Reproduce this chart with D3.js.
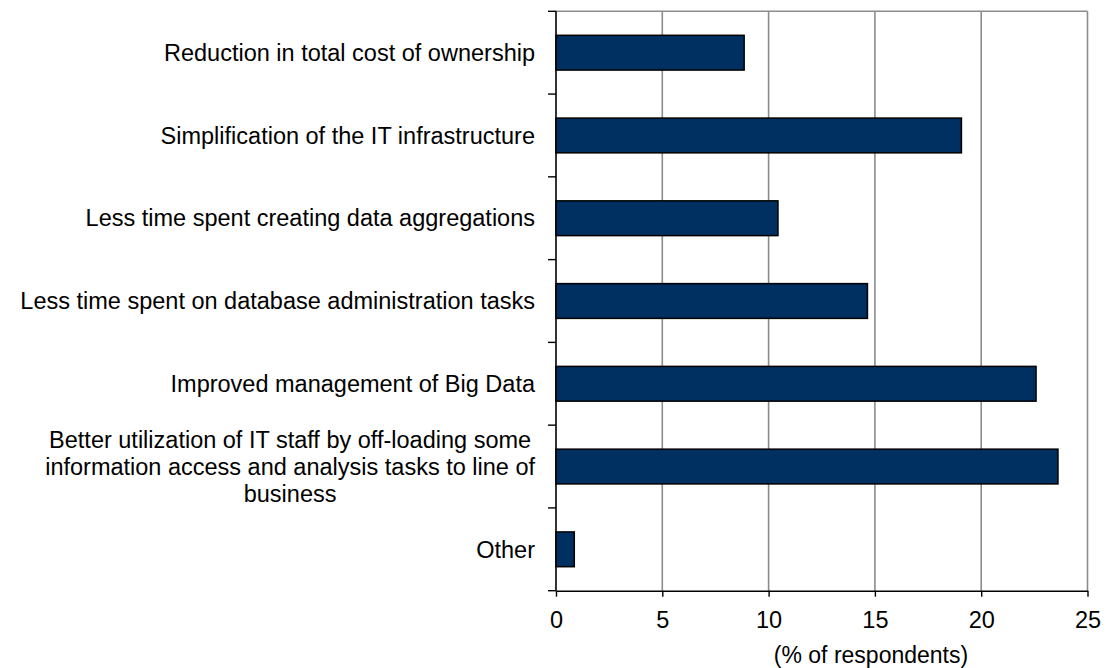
<!DOCTYPE html>
<html>
<head>
<meta charset="utf-8">
<script src="https://cdn.jsdelivr.net/npm/d3@7"></script>
<style>
  html, body { margin: 0; padding: 0; background: #fff; }
  svg { display: block; font-family: "Liberation Sans", Arial, sans-serif; }
</style>
</head>
<body>
<svg id="chart" width="1107" height="668"></svg>
<script>
// Survey responses: perceived benefits (% of respondents)
const categories = [
  "Reduction in total cost of ownership",
  "Simplification of the IT infrastructure",
  "Less time spent creating data aggregations",
  "Less time spent on database administration tasks",
  "Improved management of Big Data",
  "Better utilization of IT staff by off-loading some|information access and analysis tasks to line of|business",
  "Other"
];
const values = [8.85, 19.07, 10.44, 14.65, 22.58, 23.61, 0.86];
const xTicks = [0, 5, 10, 15, 20, 25];
const axisTitle = "(% of respondents)";

const svg = d3.select("#chart");
const plot = { left: 556, right: 1087.5, top: 11.3, bottom: 590.7 };
const fontSize = 23.5;
const lineHeight = 27;

const x = d3.scaleLinear().domain([0, 25]).range([plot.left, plot.right]);
const y = d3.scaleBand()
  .domain(categories)
  .range([plot.top, plot.bottom])
  .paddingInner(0.58)
  .paddingOuter(0.29);
const step = y.step();

// vertical gridlines and the top frame line
svg.append("g")
  .selectAll("line.grid")
  .data(xTicks.filter(d => d > 0))
  .join("line")
  .attr("x1", d => x(d)).attr("x2", d => x(d))
  .attr("y1", plot.top).attr("y2", plot.bottom)
  .attr("stroke", "#8c8c8c").attr("stroke-width", 1.6);
svg.append("line")
  .attr("x1", plot.left).attr("x2", plot.right)
  .attr("y1", plot.top).attr("y2", plot.top)
  .attr("stroke", "#8c8c8c").attr("stroke-width", 1.6);

// bars
svg.append("g")
  .selectAll("rect")
  .data(categories.map((c, i) => ({ c, v: values[i] })))
  .join("rect")
  .attr("x", x(0))
  .attr("y", d => y(d.c))
  .attr("width", d => x(d.v) - x(0))
  .attr("height", y.bandwidth())
  .attr("fill", "#002f61")
  .attr("stroke", "#000")
  .attr("stroke-width", 1.5);

// x axis
const xAxis = svg.append("g")
  .attr("transform", `translate(0,${plot.bottom})`)
  .call(d3.axisBottom(x).tickValues(xTicks).tickSize(6).tickPadding(15).tickSizeOuter(0));
xAxis.select(".domain").attr("stroke", "#000").attr("stroke-width", 1.6);
xAxis.selectAll(".tick line").attr("stroke", "#000").attr("stroke-width", 1.4);
xAxis.selectAll(".tick text")
  .attr("font-family", "Liberation Sans, Arial, sans-serif")
  .attr("font-size", fontSize).attr("fill", "#000");

// y axis: line with tick marks on the category boundaries
const boundaries = d3.range(categories.length + 1).map(i => plot.top + i * step);
svg.append("line")
  .attr("x1", plot.left).attr("x2", plot.left)
  .attr("y1", plot.top).attr("y2", plot.bottom)
  .attr("stroke", "#000").attr("stroke-width", 1.6);
svg.append("g")
  .selectAll("line")
  .data(boundaries)
  .join("line")
  .attr("x1", plot.left - 8).attr("x2", plot.left)
  .attr("y1", d => d).attr("y2", d => d)
  .attr("stroke", "#000").attr("stroke-width", 1.4);

// category labels: right-aligned block, multi-line text centred within it
const labelRight = 535;
categories.forEach(c => {
  const lines = c.split("|");
  const cy = y(c) + y.bandwidth() / 2;
  const t = svg.append("text")
    .attr("font-size", fontSize)
    .attr("fill", "#000");
  lines.forEach((ln, i) => {
    t.append("tspan")
      .attr("y", cy + (i - (lines.length - 1) / 2) * lineHeight)
      .attr("dy", "0.35em")
      .text(ln);
  });
  const maxW = d3.max(t.selectAll("tspan").nodes(), n => n.getComputedTextLength());
  t.attr("text-anchor", "middle");
  t.selectAll("tspan").attr("x", labelRight - maxW / 2);
});

// axis title
svg.append("text")
  .attr("x", 871).attr("y", 663)
  .attr("text-anchor", "middle")
  .attr("font-size", 23)
  .attr("fill", "#000")
  .text(axisTitle);
</script>
</body>
</html>
